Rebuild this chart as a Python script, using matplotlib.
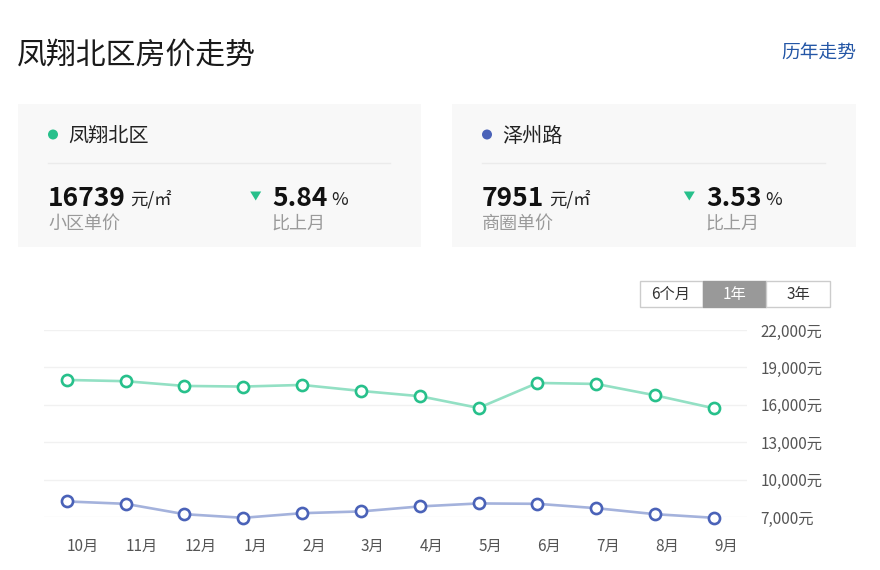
import matplotlib
matplotlib.use('Agg')
import matplotlib.pyplot as plt
from matplotlib.patches import Rectangle, Circle, Polygon

plt.rcParams['font.family'] = ['Noto Sans CJK SC', 'DejaVu Sans']

# data
months = ['10月', '11月', '12月', '1月', '2月', '3月', '4月', '5月', '6月', '7月', '8月', '9月']
community = [18000, 17900, 17520, 17470, 17600, 17120, 16700, 15760, 17760, 17680, 16770, 15730]
district = [8270, 8080, 7250, 6960, 7330, 7470, 7870, 8110, 8080, 7730, 7250, 6960]
y_ticks = [7000, 10000, 13000, 16000, 19000, 22000]
ranges = ['6个月', '1年', '3年']

GREEN = '#27c08b'
GREEN_LINE = '#93e0c4'
BLUE = '#4a62b8'
BLUE_LINE = '#a4b2dc'

W, H = 880, 570
fig = plt.figure(figsize=(W / 100, H / 100), dpi=100)

# page layer in pixel coordinates
bg = fig.add_axes([0, 0, 1, 1])
bg.set_xlim(0, W)
bg.set_ylim(H, 0)
bg.axis('off')

bg.text(17, 55, '凤翔北区房价走势', fontsize=21.5, color='#1a1a1a', va='center', ha='left')
bg.text(856, 53, '历年走势', fontsize=13.5, color='#2356a6', va='center', ha='right')


def card(x0, x1, dot_color, name, price, unit_x, label, tri_x, pct, pct_unit_x):
    bg.add_patch(Rectangle((x0, 104), x1 - x0, 143, facecolor='#f8f8f8', edgecolor='none'))
    bg.add_patch(Circle((x0 + 35, 134.5), 5, facecolor=dot_color, edgecolor='none'))
    bg.text(x0 + 50, 136, name, fontsize=14.5, color='#222222', va='center', ha='left')
    bg.plot([x0 + 30, x1 - 31], [162.7, 162.7], color='#ebebeb', lw=1)
    bg.text(x0 + 30, 198, price, fontsize=19, fontweight='bold', color='#111111', va='center', ha='left')
    bg.text(unit_x, 199, '元/㎡', fontsize=12.5, color='#222222', va='center', ha='left')
    bg.text(x0 + 30, 224, label, fontsize=13, color='#9a9a9a', va='center', ha='left')
    bg.add_patch(Polygon([[tri_x - 5.5, 191.5], [tri_x + 5.5, 191.5], [tri_x, 200.5]],
                         facecolor=GREEN, edgecolor='none'))
    bg.text(tri_x + 17, 198, pct, fontsize=19, fontweight='bold', color='#111111', va='center', ha='left')
    bg.text(pct_unit_x, 200, '%', fontsize=13, color='#222222', va='center', ha='left')
    bg.text(tri_x + 16, 224, '比上月', fontsize=13, color='#9a9a9a', va='center', ha='left')


card(18, 421, GREEN, '凤翔北区', '16739', 130, '小区单价', 255.7, '5.84', 331)
card(452, 856, BLUE, '泽州路', '7951', 549, '商圈单价', 689.3, '3.53', 765)

# range buttons
edges = [639.5, 702.5, 766, 830]
for i, name in enumerate(ranges):
    active = name == '1年'
    bg.add_patch(Rectangle((edges[i], 280.5), edges[i + 1] - edges[i], 26,
                           facecolor='#999999' if active else 'white',
                           edgecolor='#999999' if active else '#cccccc', lw=1))
    bg.text((edges[i] + edges[i + 1]) / 2, 294.5, name, fontsize=11,
            color='white' if active else '#333333', ha='center', va='center')

# line chart
left, right, top, bottom = 44, 746.7, 330, 517.3
ax = fig.add_axes([left / W, (H - bottom) / H, (right - left) / W, (bottom - top) / H])
ax.patch.set_alpha(0)
x = list(range(len(months)))
ax.plot(x, community, color=GREEN_LINE, lw=1.9, marker='o', markersize=8,
        markerfacecolor='white', markeredgecolor=GREEN, markeredgewidth=1.9, clip_on=False, zorder=3)
ax.plot(x, district, color=BLUE_LINE, lw=1.9, marker='o', markersize=8,
        markerfacecolor='white', markeredgecolor=BLUE, markeredgewidth=1.9, clip_on=False, zorder=3)

ax.set_xlim(-0.386, 11.556)
ax.set_ylim(7000, 22000)
ax.set_yticks(y_ticks)
ax.set_yticklabels([f'{v:,}元' for v in y_ticks])
ax.yaxis.tick_right()
ax.set_xticks(x)
ax.set_xticklabels(months)
for lab in ax.get_xticklabels():
    lab.set_horizontalalignment('left')
ax.tick_params(axis='x', length=0, pad=15, labelsize=11, labelcolor='#555555')
ax.tick_params(axis='y', length=0, pad=10, labelsize=11, labelcolor='#555555')
ax.grid(axis='y', color='#f1f1f1', lw=1)
ax.set_axisbelow(True)
for s in ax.spines.values():
    s.set_visible(False)

fig.savefig('out.png', dpi=100, facecolor='white')
